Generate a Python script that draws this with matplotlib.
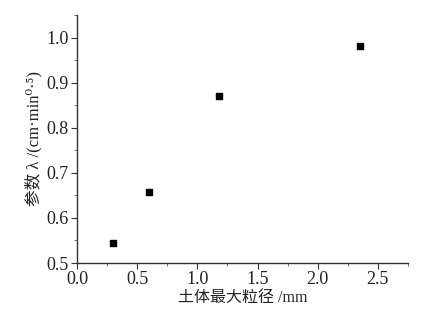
import matplotlib.pyplot as plt
from matplotlib.ticker import MultipleLocator

# 土体最大粒径 (mm) 与参数 λ
grain_size = [0.3, 0.6, 1.18, 2.35]
lam = [0.545, 0.657, 0.871, 0.981]

plt.rcParams['font.family'] = ['Liberation Serif', 'Noto Sans CJK SC', 'DejaVu Serif', 'DejaVu Sans']

fig = plt.figure(figsize=(4.34, 3.13), dpi=100)
ax = fig.add_axes([77 / 434, 50 / 313, 331 / 434, 248 / 313])

ax.scatter(grain_size, lam, marker='s', s=24, color='black', zorder=3)

ax.set_xlim(0, 2.75)
ax.set_ylim(0.5, 1.05)
ax.xaxis.set_major_locator(MultipleLocator(0.5))
ax.xaxis.set_minor_locator(MultipleLocator(0.25))
ax.yaxis.set_major_locator(MultipleLocator(0.1))
ax.yaxis.set_minor_locator(MultipleLocator(0.05))
ax.xaxis.set_major_formatter(plt.FormatStrFormatter('%.1f'))
ax.yaxis.set_major_formatter(plt.FormatStrFormatter('%.1f'))

for side in ['top', 'right']:
    ax.spines[side].set_visible(False)
for side in ['left', 'bottom']:
    ax.spines[side].set_color('#333333')
    ax.spines[side].set_linewidth(1.0)

ax.tick_params(which='major', direction='out', length=4, width=0.8,
               labelsize=13, colors='#333333', labelcolor='#222222', pad=2)
ax.tick_params(which='minor', direction='out', length=2, width=0.6, colors='#555555')

ax.set_xlabel('土体最大粒径 /mm', fontsize=11.5, color='#222222', labelpad=1)
ax.set_ylabel('参数 λ /(cm·min⁰·⁵)', fontsize=12, color='#222222', labelpad=3)

fig.savefig('out.png', dpi=100)
